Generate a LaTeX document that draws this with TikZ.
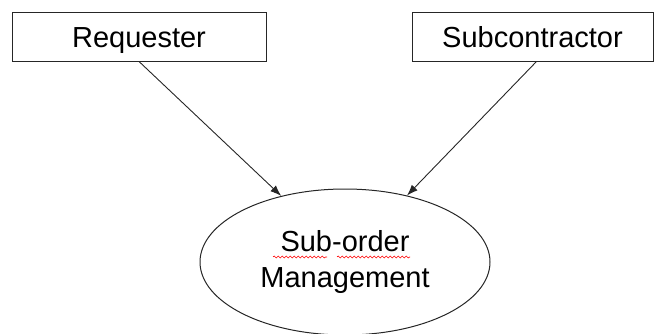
\documentclass[tikz,border=0pt]{standalone}
\usepackage{fontspec}
\setmainfont{Liberation Sans}
\usetikzlibrary{shapes.geometric, arrows.meta, decorations.pathmorphing}

\begin{document}
\begin{tikzpicture}[x=1pt, y=1pt,
    actor/.style={rectangle, draw=black!85, line width=1pt, text centered, minimum height=49pt, text height=21pt, text depth=0pt, font=\fontsize{29}{34}\selectfont},
    usecase/.style={ellipse, draw=black!85, line width=1pt, align=center, minimum width=290pt, minimum height=146pt, inner sep=0pt, font=\fontsize{29}{36}\selectfont},
    arrow/.style={-{Latex[length=11pt, width=8pt]}, line width=0.9pt, draw=black!85},
    squiggle/.style={red, line width=0.6pt, decorate, decoration={snake, amplitude=1pt, segment length=4pt}}
]
\useasboundingbox (0,0) rectangle (655,333);

% Attori
\node[actor, minimum width=254pt] (req) at (139,296.5) {Requester};
\node[actor, minimum width=241pt] (sub) at (532.5,296.5) {Subcontractor};

% Caso d'uso
\node[usecase] (mgmt) at (345,71) {Sub-order\\Management};

% Frecce
\draw[arrow] (req.south) -- (mgmt.134);
\draw[arrow] ([xshift=4pt]sub.south) -- (mgmt.47);

% Sottolineature ortografiche
\draw[squiggle] (273,76) -- (327,76);
\draw[squiggle] (337,76) -- (410,76);

\end{tikzpicture}
\end{document}
